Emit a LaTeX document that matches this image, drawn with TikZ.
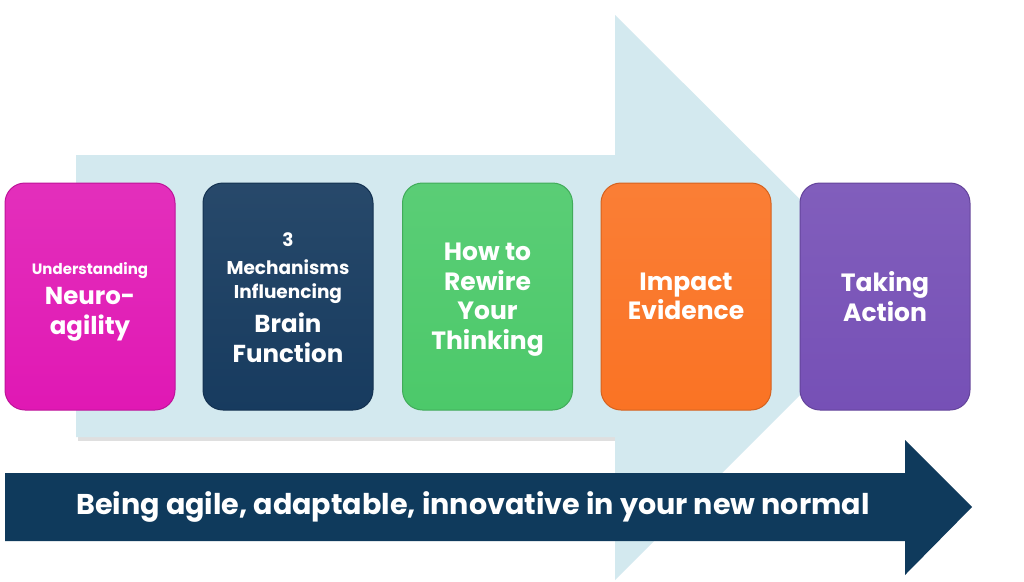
\documentclass[tikz,border=0pt]{standalone}
\usepackage{fontspec}
\setmainfont{Poppins}
\usetikzlibrary{shadings}
\definecolor{lightarrow}{HTML}{D3E9EF}
\definecolor{darkarrow}{HTML}{0F3A5C}
\definecolor{cpink}{HTML}{E018B4}
\definecolor{cnavy}{HTML}{173B5F}
\definecolor{cgreen}{HTML}{4CC96A}
\definecolor{corange}{HTML}{FA7324}
\definecolor{cpurple}{HTML}{7650B6}
\tikzset{
  stagebox/.style={rounded corners=20pt, minimum width=170pt, minimum height=227pt,
    inner sep=0pt, line width=1pt},
  stagetext/.style={inner sep=0pt, align=center, text=white,
    font=\bfseries\fontsize{25}{29.5}\selectfont}
}
\newcommand{\sm}{\fontsize{15}{23}\selectfont}
\newcommand{\md}{\fontsize{18.5}{23}\selectfont}
\newcommand{\bg}{\fontsize{24.5}{29}\selectfont}
\begin{document}
\begin{tikzpicture}[x=1pt,y=-1pt]
\useasboundingbox[fill=white] (0,0) rectangle (1024,581);
% light background arrow
\fill[gray!25] (78,437) -- (615,437) -- (615,441) -- (78,441) -- cycle;
\fill[lightarrow] (76,155) -- (615,155) -- (615,15) -- (898,297) -- (615,580) -- (615,437) -- (76,437) -- cycle;
% boxes
\node[stagebox, draw=cpink!85!black, top color=cpink!90!white, bottom color=cpink] (b1) at (90,296.5) {};
\node[stagebox, draw=cnavy!85!black, top color=cnavy!93!white, bottom color=cnavy] (b2) at (288,296.5) {};
\node[stagebox, draw=cgreen!85!black, top color=cgreen!92!white, bottom color=cgreen] (b3) at (487.5,296.5) {};
\node[stagebox, draw=corange!85!black, top color=corange!92!white, bottom color=corange] (b4) at (686,296.5) {};
\node[stagebox, draw=cpurple!85!black, top color=cpurple!92!white, bottom color=cpurple] (b5) at (885,296.5) {};
% box texts
\node[stagetext, yshift=-5pt] (t1) at (b1.center)
  {\sm Understanding\\[1pt] \bg Neuro-\\ \bg agility};
\node[stagetext, yshift=-1pt] (t2) at (b2.center)
  {\md 3\\[-1pt] \md Mechanisms\\[-6pt] \md Influencing\\[5pt] \bg Brain\\ \bg Function};
\node[stagetext, yshift=-3pt] (t3) at (b3.center)
  {How to\\ Rewire\\ Your\\ Thinking};
\node[stagetext] (t4) at (b4.center)
  {Impact\\ Evidence};
\node[stagetext] (t5) at (b5.center)
  {Taking\\ Action};
% dark bottom arrow
\fill[darkarrow] (5,473) -- (905,473) -- (905,440) -- (972,507) -- (905,575) -- (905,541) -- (5,541) -- cycle;
\node[text=white, font=\bfseries\fontsize{28.6}{32}\selectfont] (motto) at (473,507)
  {Being agile, adaptable, innovative in your new normal};
\end{tikzpicture}
\end{document}
